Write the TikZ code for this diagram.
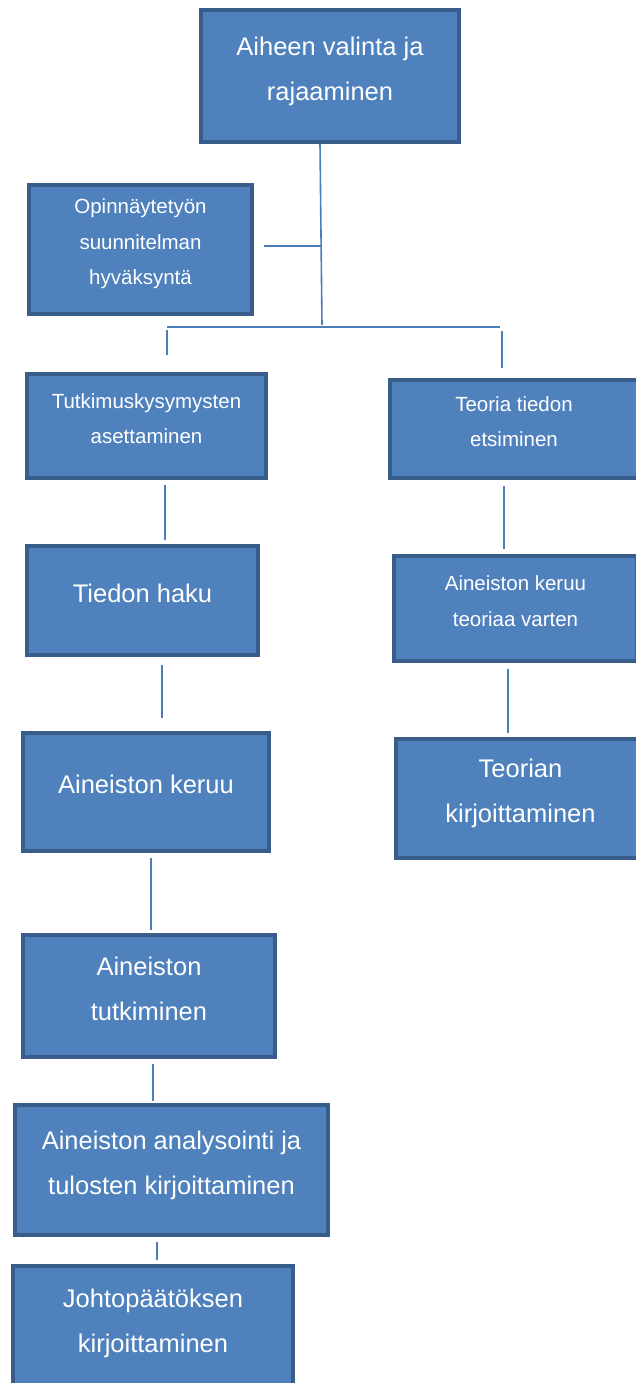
\documentclass[tikz,border=0pt]{standalone}
\usepackage{fontspec}
\setmainfont{Liberation Sans}
\definecolor{boxfill}{HTML}{4F81BD}
\definecolor{boxline}{HTML}{385D8A}
\definecolor{linkline}{HTML}{4A7EBB}
\newcommand{\bigtxt}{\fontsize{25.5}{45}\selectfont}
\newcommand{\smalltxt}{\fontsize{20.5}{35.5}\selectfont}
\newcommand{\lowpad}{\rule[-15pt]{0pt}{0pt}}

\begin{document}
\begin{tikzpicture}[x=1pt,y=-1pt]
\tikzstyle{box}=[draw=boxline,fill=boxfill,line width=4pt,text=white,align=center,inner sep=0pt,execute at end node=\lowpad]
\tikzstyle{link}=[draw=linkline,line width=1.6pt,shorten <=5pt,shorten >=4pt]
\useasboundingbox (0,0) rectangle (636,1383);
% left column
\node[box,font=\bigtxt,minimum width=258,minimum height=132] (valinta) at (330,76) {Aiheen valinta ja\\rajaaminen};
\node[box,font=\smalltxt,minimum width=223,minimum height=129] (suunnitelma) at (140.5,249.5) {Opinnäytetyön\\suunnitelman\\hyväksyntä};
\node[box,font=\smalltxt,minimum width=239,minimum height=104] (kysymys) at (146.5,426) {Tutkimuskysymysten\\asettaminen};
\node[box,font=\bigtxt,minimum width=231,minimum height=109] (haku) at (142.5,600.5) {Tiedon haku};
\node[box,font=\bigtxt,minimum width=246,minimum height=118] (keruu) at (146,792) {Aineiston keruu};
\node[box,font=\bigtxt,minimum width=252,minimum height=122] (tutkiminen) at (149,996) {Aineiston\\tutkiminen};
\node[box,font=\bigtxt,minimum width=313,minimum height=130] (analyysi) at (171.5,1170) {Aineiston analysointi ja\\tulosten kirjoittaminen};
\node[box,font=\bigtxt,minimum width=280,minimum height=124] (johto) at (153,1328) {Johtopäätöksen\\kirjoittaminen};
% right column
\node[box,font=\smalltxt,minimum width=248,minimum height=98] (teoria) at (514,429) {Teoria tiedon\\etsiminen};
\node[box,font=\smalltxt,minimum width=243,minimum height=105] (teoriakeruu) at (515.5,608.5) {Aineiston keruu\\teoriaa varten};
\node[box,font=\bigtxt,minimum width=249,minimum height=119] (kirjoitus) at (520.5,798.5) {Teorian\\kirjoittaminen};
% connectors
\coordinate (fork) at (322,325);
\coordinate (barleft) at (167,327);
\coordinate (barright) at (500,327);
\draw[link,shorten <=0pt,shorten >=0pt] (320,0 |- valinta.south) -- (fork);
\draw[link,shorten <=10pt,shorten >=0pt] (suunnitelma.east |- 0,246) -- (321,246);
\draw[link,shorten <=0pt,shorten >=0pt] (barleft) -- (barright);
\draw[link,shorten <=3pt,shorten >=17pt] (barleft) -- (barleft |- kysymys.north);
\draw[link,shorten <=4pt,shorten >=10pt] (502,0 |- barright) -- (502,0 |- teoria.north);
\draw[link] (165,0 |- kysymys.south) -- (165,0 |- haku.north);
\draw[link,shorten <=8pt,shorten >=13pt] (162,0 |- haku.south) -- (162,0 |- keruu.north);
\draw[link,shorten >=3pt] (151,0 |- keruu.south) -- (151,0 |- tutkiminen.north);
\draw[link,shorten >=2pt] (153,0 |- tutkiminen.south) -- (153,0 |- analyysi.north);
\draw[link] (157,0 |- analyysi.south) -- (157,0 |- johto.north);
\draw[link,shorten <=6pt,shorten >=5pt] (504,0 |- teoria.south) -- (504,0 |- teoriakeruu.north);
\draw[link,shorten <=6pt] (508,0 |- teoriakeruu.south) -- (508,0 |- kirjoitus.north);
\end{tikzpicture}
\end{document}
